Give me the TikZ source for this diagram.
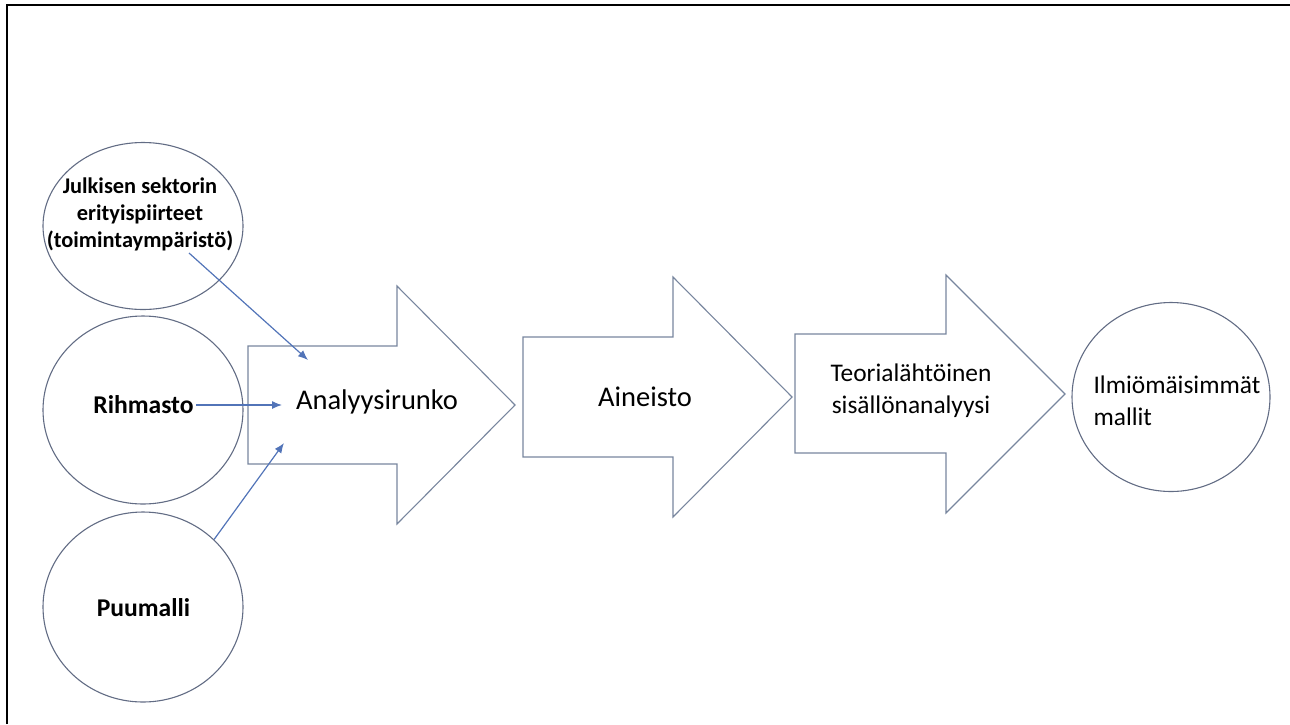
\documentclass[tikz,border=0pt]{standalone}
\usepackage{fontspec}
\setmainfont{Carlito}
\usetikzlibrary{shapes.geometric,arrows.meta}
\definecolor{shapeline}{RGB}{120,134,158}
\definecolor{ringline}{RGB}{98,108,132}
\definecolor{connblue}{RGB}{82,116,184}
\tikzset{ring/.style={draw=ringline,line width=1.1pt,ellipse,inner sep=0pt,minimum width=200pt},
 bigarrow/.style={draw=shapeline,line width=1.1pt,line join=miter},
 conn/.style={draw=connblue,line width=1.2pt,-{Latex[length=10pt,width=8pt]}},
 boldtxt/.style={font=\fontsize{25.6}{31}\selectfont\bfseries},
 smallbold/.style={font=\fontsize{22.4}{27}\selectfont\bfseries,align=center},
 maintxt/.style={font=\fontsize{28.5}{34}\selectfont},
 sidetxt/.style={font=\fontsize{25.4}{32}\selectfont},
 }

\begin{document}
\begin{tikzpicture}[x=1pt,y=-1pt]
        \useasboundingbox (0,0) rectangle (1290,724);
        \draw[line width=2pt] (7,724) -- (7,5) -- (1290,5);
        % circles on the left
        \node[ring,minimum height=167pt] (julk) at (143,226) {};
        \node[ring,minimum height=188pt] (rihm) at (143,410) {};
        \node[ring,minimum height=190pt] (puu) at (143,607) {};
        \node[ring,minimum width=198pt,minimum height=189pt] (ilmio) at (1171,397) {};
        \node[smallbold] (julktxt) at (140,214) {Julkisen sektorin\\erityispiirteet\\(toimintaympäristö)};
        \node[boldtxt,inner sep=2pt] (rihmtxt) at (143.5,405) {Rihmasto};
        \node[boldtxt] (puutxt) at (143.5,608) {Puumalli};
        % block arrows
        \draw[bigarrow] (248,346) -- (397,346) -- (397,286) -- (515,405) -- (397,524) -- (397,464) -- (248,464) -- cycle;
        \draw[bigarrow] (523,337) -- (673,337) -- (673,277) -- (792,397) -- (673,517) -- (673,457) -- (523,457) -- cycle;
        \draw[bigarrow] (795,334) -- (946,334) -- (946,275) -- (1065,394) -- (946,513) -- (946,453) -- (795,453) -- cycle;
        \node[maintxt] (runko) at (377,402) {Analyysirunko};
        \node[maintxt] (aineisto) at (645,397) {Aineisto};
        \node[sidetxt,align=center] (teoria) at (911,391) {Teorialähtöinen\\sisällönanalyysi};
        \node[sidetxt,align=left,anchor=west] (ilmiotxt) at (1090,401) {Ilmiömäisimmät\\mallit};
        % connectors into the first arrow
        \coordinate (jout) at (189,253);
        \coordinate (in1) at (308,360);
        \coordinate (in2) at (282,405);
        \coordinate (in3) at (284,443);
        \draw[conn] (jout) -- (in1);
        \draw[conn] (rihmtxt.east) -- (in2);
        \draw[conn] (puu.north east) -- (in3);
    \end{tikzpicture}
\end{document}
